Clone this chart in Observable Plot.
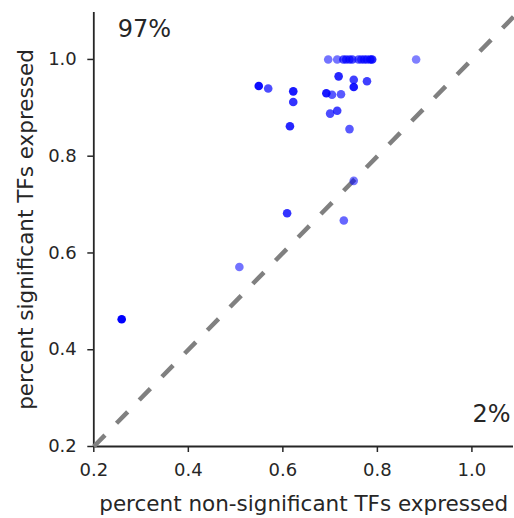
<!DOCTYPE html>
<html>
<head>
<meta charset="utf-8">
<script src="https://cdn.jsdelivr.net/npm/d3@7"></script>
<script src="https://cdn.jsdelivr.net/npm/@observablehq/plot@0.6"></script>
<style>
  html, body { margin: 0; padding: 0; background: #fff; overflow: hidden; }
</style>
</head>
<body>
<div id="chart"></div>
<script>
// percent of non-significant TFs expressed (x) vs significant TFs expressed (y)
const nonSig = [
  0.696, 0.715, 0.728, 0.734, 0.741, 0.747, 0.760, 0.766, 0.772, 0.778, 0.785, 0.789, 0.882,
  0.549, 0.569, 0.622, 0.622, 0.615, 0.718, 0.750, 0.750, 0.778, 0.692, 0.704, 0.723,
  0.700, 0.715, 0.741, 0.750, 0.609, 0.729, 0.508, 0.259
];
const sig = [
  1.000, 1.000, 1.000, 1.000, 1.000, 1.000, 1.000, 1.000, 1.000, 1.000, 1.000, 1.000, 1.000,
  0.945, 0.940, 0.934, 0.912, 0.862, 0.965, 0.958, 0.943, 0.955, 0.930, 0.927, 0.928,
  0.888, 0.894, 0.856, 0.749, 0.682, 0.667, 0.571, 0.463
];
// per-point weight shown as opacity
const weight = [
  0.55, 0.55, 0.7, 0.7, 0.7, 0.7, 0.65, 0.65, 0.7, 0.7, 0.8, 0.85, 0.5,
  0.95, 0.7, 0.9, 0.8, 0.85, 0.85, 0.75, 0.9, 0.75, 0.9, 0.65, 0.65,
  0.7, 0.75, 0.65, 0.55, 0.8, 0.6, 0.55, 1.0
];
const xTicks = [0.2, 0.4, 0.6, 0.8, 1.0];
const yTicks = [0.2, 0.4, 0.6, 0.8, 1.0];
const xDomain = [0.2, 1.088];
const yDomain = [0.2, 1.097];
const xLabel = "percent non-significant TFs expressed";
const yLabel = "percent significant TFs expressed";
const upperShare = ["97%"];
const lowerShare = ["2%"];

const points = nonSig.map((x, i) => ({x, y: sig[i], w: weight[i]}));
const diag = [{x1: xDomain[0], y1: xDomain[0], x2: xDomain[1], y2: xDomain[1]}];

const ink = "#262626";

const chart = Plot.plot({
  width: 514,
  height: 518,
  marginLeft: 93.3,
  marginRight: 1,
  marginTop: 12,
  marginBottom: 72,
  style: {fontFamily: "'DejaVu Sans', sans-serif", color: ink, background: "#fff"},
  x: {domain: xDomain},
  y: {domain: yDomain},
  opacity: {type: "identity"},
  marks: [
    Plot.axisX({ticks: xTicks, tickFormat: d3.format(".1f"), tickSize: 6, tickPadding: 11, fontSize: 18, strokeWidth: 1.5, label: null}),
    Plot.axisY({ticks: yTicks, tickFormat: d3.format(".1f"), tickSize: 6, tickPadding: 11, fontSize: 18, strokeWidth: 1.5, label: null}),
    Plot.ruleY([yDomain[0]], {stroke: ink, strokeWidth: 1.8}),
    Plot.ruleX([xDomain[0]], {stroke: ink, strokeWidth: 1.8}),
    Plot.link(diag, {x1: "x1", y1: "y1", x2: "x2", y2: "y2", stroke: "#808080", strokeWidth: 4.5, strokeDasharray: "16,16.5", strokeLinecap: "butt"}),
    Plot.dot(points, {x: "x", y: "y", r: 4.3, fill: "#0000ff", fillOpacity: "w", stroke: null}),
    Plot.text(upperShare, {text: d => d, frameAnchor: "top-left", textAnchor: "start", lineAnchor: "middle", dx: 24, dy: 16.5, fontSize: 24, fill: ink}),
    Plot.text(lowerShare, {text: d => d, frameAnchor: "bottom-right", textAnchor: "end", lineAnchor: "middle", dx: -3, dy: -32, fontSize: 24, fill: ink}),
    Plot.text([xLabel], {text: d => d, frameAnchor: "bottom", textAnchor: "middle", lineAnchor: "middle", dy: 57.5, fontSize: 21.5, fill: ink}),
    Plot.text([yLabel], {text: d => d, frameAnchor: "left", textAnchor: "middle", lineAnchor: "middle", rotate: -90, dx: -68, fontSize: 21.5, fill: ink})
  ]
});
document.getElementById("chart").appendChild(chart);
</script>
</body>
</html>
